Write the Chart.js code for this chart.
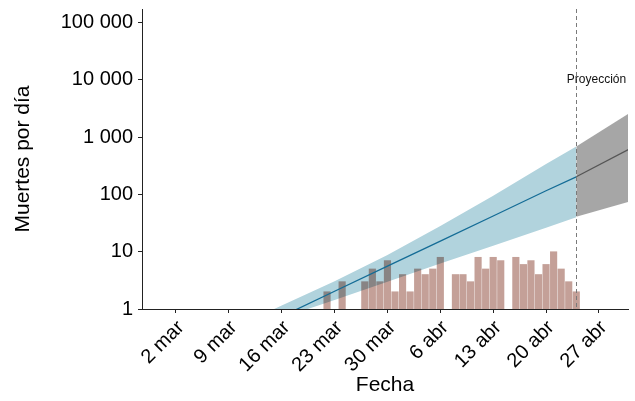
<!DOCTYPE html>
<html>
<head>
<meta charset="utf-8">
<script src="https://cdn.jsdelivr.net/npm/chart.js@4.4.1/dist/chart.umd.min.js"></script>
<style>
  html, body { margin: 0; padding: 0; background: #fff; }
  #wrap { width: 635px; height: 401px; }
</style>
</head>
<body>
<div id="wrap"><canvas id="myChart"></canvas></div>
<script>
 // Observed daily deaths
 const deathDates = ['2020-03-22', '2020-03-24', '2020-03-27', '2020-03-28', '2020-03-29', '2020-03-30',
   '2020-03-31', '2020-04-01', '2020-04-02', '2020-04-03', '2020-04-04', '2020-04-05', '2020-04-06',
   '2020-04-08', '2020-04-09', '2020-04-10', '2020-04-11', '2020-04-12', '2020-04-13', '2020-04-14',
   '2020-04-16', '2020-04-17', '2020-04-18', '2020-04-19', '2020-04-20', '2020-04-21', '2020-04-22',
   '2020-04-23', '2020-04-24'];
 const deathValues = [2, 3, 3, 5, 3, 7, 2, 4, 2, 5, 4, 5, 8, 4, 4, 3, 8, 5, 8, 7, 8, 6, 7, 4, 6, 10, 5, 3, 2];

 // Model fit (line + interval)
 const fitDates = ['2020-03-14', '2020-03-16', '2020-03-23', '2020-03-30', '2020-04-06', '2020-04-13', '2020-04-20', '2020-04-24'];
 const fitValues = [0.56, 0.74, 2.04, 5.6, 15.3, 42, 116, 203];
 const fitUpper = [0.87, 1.15, 3.05, 8.8, 28, 95, 340, 690];
 const fitLower = [0.4, 0.7, 1.44, 2.98, 6.2, 12.7, 26.3, 40];

 // Projection
 const projDates = ['2020-04-24', '2020-05-01'];
 const projValues = [203, 618];
 const projUpper = [690, 2620];
 const projLower = [41, 75];
 const projectionDate = '2020-04-24';

 // Axis ticks
 const xTickDates = ['2020-03-02', '2020-03-09', '2020-03-16', '2020-03-23', '2020-03-30',
   '2020-04-06', '2020-04-13', '2020-04-20', '2020-04-27'];
 const xTickLabels = ['2 mar', '9 mar', '16 mar', '23 mar', '30 mar', '6 abr', '13 abr', '20 abr', '27 abr'];
 const yTickValues = [1, 10, 100, 1000, 10000, 100000];
 const yTickLabels = ['1', '10', '100', '1 000', '10 000', '100 000'];

 // day number counted from 1 mar
 function dayOf(s) {
   return Math.round((Date.parse(s) - Date.parse('2020-03-01')) / 864e5);
 }
 function pts(dates, values) {
   return dates.map((d, i) => ({ x: dayOf(d), y: values[i] }));
 }

 Chart.defaults.font.family = '"Liberation Sans", Arial, Helvetica, sans-serif';
 Chart.defaults.color = '#000';

 // bars are multiplied with the band below them
 const multiplyBars = {
   id: 'multiplyBars',
   beforeDatasetDraw(chart, args) {
     if (args.meta.type === 'bar') {
       chart.ctx.save();
       chart.ctx.globalCompositeOperation = 'multiply';
     }
   },
   afterDatasetDraw(chart, args) {
     if (args.meta.type === 'bar') chart.ctx.restore();
   }
 };

 // dashed line + label where the projection begins
 const projectionMark = {
   id: 'projectionMark',
   afterDatasetsDraw(chart) {
     const { ctx, chartArea, scales } = chart;
     const x = Math.round(scales.x.getPixelForValue(dayOf(projectionDate))) + 0.5;
     ctx.save();
     ctx.strokeStyle = '#7a7a7a';
     ctx.lineWidth = 1;
     ctx.setLineDash([4, 3]);
     ctx.beginPath();
     ctx.moveTo(x, chartArea.top);
     ctx.lineTo(x, chartArea.bottom);
     ctx.stroke();
     ctx.setLineDash([]);
     ctx.fillStyle = '#111';
     ctx.font = '12px "Liberation Sans", Arial, sans-serif';
     ctx.textAlign = 'center';
     ctx.textBaseline = 'middle';
     ctx.fillText('Proyección', x + 20, scales.y.getPixelForValue(10000));
     ctx.restore();
   }
 };

 const noLine = 'rgba(0,0,0,0)';
 const ctx = document.getElementById('myChart').getContext('2d');
 const myChart = new Chart(ctx, {
   type: 'line',
   data: {
     datasets: [
       { type: 'line', data: pts(fitDates, fitValues), borderColor: '#146c96', borderWidth: 1.3,
         pointRadius: 0, fill: false, order: 0 },
       { type: 'line', data: pts(projDates, projValues), borderColor: '#555555', borderWidth: 1.2,
         pointRadius: 0, fill: false, order: 0 },
       { type: 'bar', data: pts(deathDates, deathValues), backgroundColor: '#c4a098', borderWidth: 0,
         barThickness: 6.5, grouped: false, order: 1 },
       { type: 'line', data: pts(fitDates, fitUpper), borderColor: noLine, borderWidth: 0, pointRadius: 0,
         backgroundColor: 'rgb(177,211,221)', fill: 4, order: 3 },
       { type: 'line', data: pts(fitDates, fitLower), borderColor: noLine, borderWidth: 0, pointRadius: 0,
         fill: false, order: 3 },
       { type: 'line', data: pts(projDates, projUpper), borderColor: noLine, borderWidth: 0, pointRadius: 0,
         backgroundColor: '#a6a6a6', fill: 6, order: 3 },
       { type: 'line', data: pts(projDates, projLower), borderColor: noLine, borderWidth: 0, pointRadius: 0,
         fill: false, order: 3 }
     ]
   },
   options: {
     responsive: true,
     maintainAspectRatio: false,
     animation: false,
     layout: { padding: { top: 9, right: 7, left: 0, bottom: 0 } },
     plugins: { legend: { display: false }, tooltip: { enabled: false } },
     scales: {
       x: {
         type: 'linear',
         offset: false,
         min: -3.5,
         max: 60.85,
         afterBuildTicks: s => { s.ticks = xTickDates.map(d => ({ value: dayOf(d) })); },
         afterFit: s => { s.height = 92; s.paddingLeft = 0; s.paddingRight = 0; },
         ticks: {
           autoSkip: false, minRotation: 45, maxRotation: 45, padding: 3, labelOffset: 5,
           font: { size: 20 },
           callback: (v, i) => xTickLabels[i]
         },
         grid: { display: true, offset: false, drawOnChartArea: false, drawTicks: true, tickLength: 4, color: '#222' },
         border: { display: true, color: '#222', width: 1 },
         title: { display: true, text: 'Fecha', font: { size: 21 }, padding: { top: 0, bottom: 3 } }
       },
       y: {
         type: 'logarithmic',
         min: 1,
         max: 173000,
         afterBuildTicks: s => { s.ticks = yTickValues.map(v => ({ value: v })); },
         afterFit: s => { s.width = 142; s.paddingTop = 0; s.paddingBottom = 0; },
         ticks: {
           autoSkip: false, padding: 5,
           font: { size: 20 },
           callback: (v, i) => yTickLabels[i]
         },
         grid: { display: true, drawOnChartArea: false, drawTicks: true, tickLength: 4, color: '#222' },
         border: { display: true, color: '#222', width: 1 },
         title: { display: true, text: 'Muertes por día', font: { size: 21 }, padding: { top: 11, bottom: 0 } }
       }
     }
   },
   plugins: [multiplyBars, projectionMark]
 });
</script>
</body>
</html>
